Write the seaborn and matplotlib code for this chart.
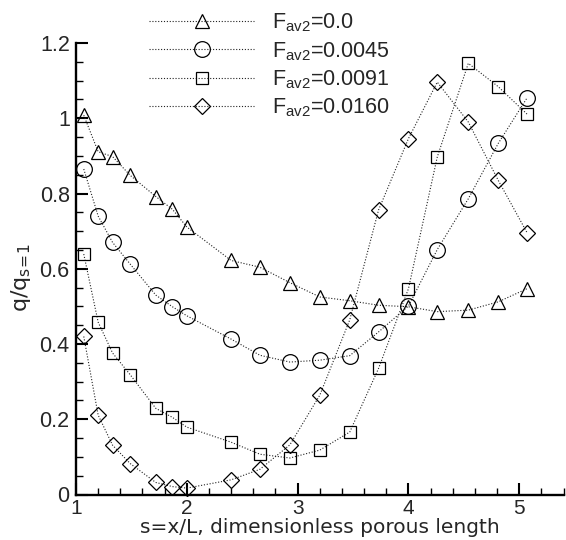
import numpy as np
import pandas as pd
import matplotlib
matplotlib.use("Agg")
import matplotlib.pyplot as plt
from matplotlib.ticker import MultipleLocator, FormatStrFormatter
import seaborn as sns

# ---- data ----
s_vals = [1.07, 1.20, 1.33, 1.49, 1.72, 1.87, 2.00, 2.40, 2.66, 2.93,
          3.20, 3.47, 3.73, 4.00, 4.26, 4.54, 4.81, 5.07]
q_f0000 = [1.008, 0.911, 0.898, 0.848, 0.792, 0.758, 0.711, 0.622, 0.604, 0.563,
           0.525, 0.515, 0.503, 0.499, 0.486, 0.490, 0.512, 0.547]
q_f0045 = [0.865, 0.740, 0.670, 0.612, 0.530, 0.499, 0.475, 0.413, 0.370, 0.352,
           0.357, 0.369, 0.432, 0.501, 0.651, 0.786, 0.933, 1.054]
q_f0091 = [0.639, 0.458, 0.376, 0.318, 0.229, 0.205, 0.179, 0.139, 0.107, 0.097,
           0.118, 0.166, 0.335, 0.547, 0.897, 1.146, 1.084, 1.011]
q_f0160 = [0.420, 0.211, 0.131, 0.082, 0.032, 0.021, 0.017, 0.039, 0.067, 0.132,
           0.264, 0.464, 0.756, 0.946, 1.096, 0.990, 0.835, 0.696]
series_labels = ["F$_{av2}$=0.0", "F$_{av2}$=0.0045", "F$_{av2}$=0.0091", "F$_{av2}$=0.0160"]
x_ticks = [1, 2, 3, 4, 5]
y_ticks = [0, 0.2, 0.4, 0.6, 0.8, 1.0, 1.2]

series = [q_f0000, q_f0045, q_f0091, q_f0160]
markers = ["^", "o", "s", "D"]
msizes = [10.5, 11.3, 8.4, 8.2]

sns.set_style("ticks")
plt.rcParams["font.family"] = ["Liberation Sans", "DejaVu Sans"]
plt.rcParams["mathtext.default"] = "regular"

fig = plt.figure(figsize=(5.66, 5.40), dpi=100)
ax = fig.add_axes([76 / 566, 1 - 494.5 / 540, (563.6 - 76) / 566, (494.5 - 43) / 540])

for vals, lab, mk, ms in zip(series, series_labels, markers, msizes):
    df = pd.DataFrame({"s": s_vals, "q": vals})
    sns.lineplot(data=df, x="s", y="q", ax=ax, sort=False, label=lab,
                 color="#222222", linestyle=(0, (1, 1.6)), linewidth=0.8,
                 marker=mk, markersize=ms, markerfacecolor="none",
                 markeredgecolor="black", markeredgewidth=0.9, clip_on=False)

ax.set_xlim(1, 5.4)
ax.set_ylim(0, 1.2)
ax.set_xticks(x_ticks)
ax.set_yticks(y_ticks)
ax.xaxis.set_minor_locator(MultipleLocator(0.2))
ax.yaxis.set_minor_locator(MultipleLocator(0.05))
ax.xaxis.set_major_formatter(FormatStrFormatter("%g"))
ax.yaxis.set_major_formatter(FormatStrFormatter("%g"))
ax.tick_params(which="major", direction="in", length=8.5, width=1.5, labelsize=15.5, color="black")
ax.tick_params(axis="y", which="major", pad=4.5)
ax.tick_params(axis="x", which="major", pad=3.5, labelsize=15)
ax.tick_params(which="minor", direction="in", length=5, width=1.0, color="black")
for sp in ["top", "right"]:
    ax.spines[sp].set_visible(False)
for sp in ["left", "bottom"]:
    ax.spines[sp].set_linewidth(1.7)
    ax.spines[sp].set_color("black")

ax.set_xlabel("s=x/L, dimensionless porous length", fontsize=14.5, family=["DejaVu Sans"], labelpad=0)
ax.set_ylabel("q/q$_{s\\!=\\!1}$", fontsize=16, family=["DejaVu Sans"])
ax.yaxis.set_label_coords(-0.088, 0.481)

ax.legend(loc="upper left", bbox_to_anchor=(149 / 566, 1 - 11.5 / 540),
          bbox_transform=fig.transFigure, frameon=False, fontsize=15.5,
          handlelength=4.9, handletextpad=0.8, labelspacing=0.27,
          borderpad=0, borderaxespad=0)

fig.savefig("out.png", dpi=100)
